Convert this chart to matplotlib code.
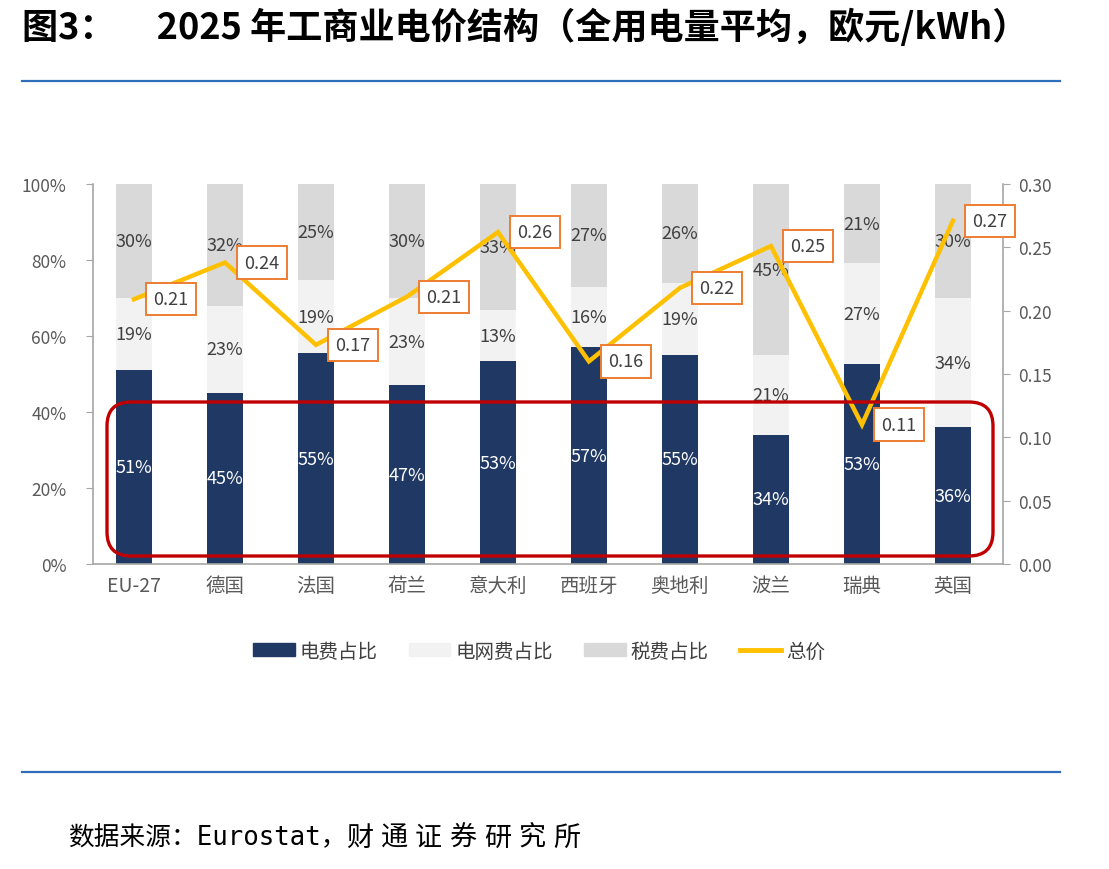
import matplotlib
matplotlib.use('Agg')
import matplotlib.pyplot as plt
import numpy as np
from matplotlib.patches import FancyBboxPatch, Patch
from matplotlib.lines import Line2D
from matplotlib.transforms import IdentityTransform
from matplotlib.ticker import FuncFormatter

plt.rcParams['font.family'] = ['Noto Sans CJK SC', 'DejaVu Sans']

categories = ['EU-27', '德国', '法国', '荷兰', '意大利', '西班牙', '奥地利', '波兰', '瑞典', '英国']
energy_share = [51, 45, 55.4, 47, 53.4, 57, 55, 34, 52.6, 36]
network_share = [19, 23, 19.4, 23, 13.4, 16, 19, 21, 26.6, 34]
tax_share = [30, 32, 25.2, 30, 33.2, 27, 26, 45, 20.8, 30]
total_price = [0.209, 0.238, 0.173, 0.211, 0.262, 0.160, 0.218, 0.251, 0.110, 0.271]
series_names = ['电费占比', '电网费占比', '税费占比', '总价']
left_ticks = [0, 20, 40, 60, 80, 100]
right_ticks = [0.00, 0.05, 0.10, 0.15, 0.20, 0.25, 0.30]

W, H = 1109, 870
fig = plt.figure(figsize=(W / 100, H / 100), dpi=100)
ax = fig.add_axes([93 / W, 1 - 565 / H, (1003 - 93) / W, (565 - 185) / H])
ax2 = ax.twinx()

c_energy = '#1F3864'
c_net = '#F2F2F2'
c_tax = '#D9D9D9'
c_line = '#FFC000'
c_box = '#ED7D31'
c_axis = '#A6A6A6'
c_text = '#595959'

x = np.arange(len(categories))
bw = 0.40
e = np.array(energy_share, float)
n = np.array(network_share, float)
t = np.array(tax_share, float)
ax.bar(x, e, bw, color=c_energy, zorder=2)
ax.bar(x, n, bw, bottom=e, color=c_net, zorder=2)
ax.bar(x, t, bw, bottom=e + n, color=c_tax, zorder=2)

for i in range(len(x)):
    ax.text(x[i], e[i] / 2, f'{e[i]:.0f}%', ha='center', va='center',
            color='white', fontsize=13, zorder=3)
    ax.text(x[i], e[i] + n[i] / 2, f'{n[i]:.0f}%', ha='center', va='center',
            color='#404040', fontsize=13, zorder=3)
    ax.text(x[i], e[i] + n[i] + t[i] / 2, f'{t[i]:.0f}%', ha='center', va='center',
            color='#404040', fontsize=13, zorder=3)

ax.set_xlim(-0.45, 9.55)
ax.set_ylim(0, 100)
ax.set_yticks(left_ticks)
ax.yaxis.set_major_formatter(FuncFormatter(lambda v, p: f'{v:.0f}%'))
ax.set_xticks(x)
ax.set_xticklabels(categories, fontsize=14, color=c_text)
ax.tick_params(axis='x', length=0, pad=8)
ax.tick_params(axis='y', labelsize=12.5, labelcolor=c_text, color=c_axis, length=5, pad=14)

ax2.set_ylim(0, 0.30)
ax2.set_yticks(right_ticks)
ax2.yaxis.set_major_formatter(FuncFormatter(lambda v, p: f'{v:.2f}'))
ax2.tick_params(axis='y', labelsize=12.5, labelcolor=c_text, color=c_axis, length=5, pad=6)

for a in (ax, ax2):
    a.spines['top'].set_visible(False)
    for s in ('left', 'right', 'bottom'):
        a.spines[s].set_color(c_axis)
        a.spines[s].set_linewidth(1.2)
ax.spines['right'].set_visible(False)
ax2.spines['left'].set_visible(False)
ax2.spines['bottom'].set_visible(False)

ax2.plot(x, total_price, color=c_line, lw=3.2, zorder=4, solid_joinstyle='miter')
for i in range(len(x)):
    ax2.annotate(f'{total_price[i]:.2f}', (x[i], total_price[i]), xytext=(37, 0),
                 textcoords='offset pixels', ha='center', va='center', fontsize=13,
                 color='#404040', zorder=6,
                 bbox=dict(boxstyle='square,pad=0.4', fc='white', ec=c_box, lw=1.4))

# red highlight box
rb = FancyBboxPatch((107, H - 557), 886, 154, boxstyle='round,pad=0,rounding_size=24',
                    transform=IdentityTransform(), fill=False, ec='#C00000', lw=2.4, zorder=10)
fig.add_artist(rb)

handles = [Patch(color=c_energy), Patch(color=c_net), Patch(color=c_tax),
           Line2D([], [], color=c_line, lw=3.5)]
fig.legend(handles, series_names, loc='center', bbox_to_anchor=(539 / W, 1 - 652 / H),
           ncol=4, frameon=False, fontsize=14, handlelength=2.15, handleheight=0.65,
           handletextpad=0.25, columnspacing=1.6, labelcolor='#404040')

# title, rules, source
fig.text(22 / W, 1 - 28 / H, '图3：     2025 年工商业电价结构（全用电量平均，欧元/kWh）',
         fontsize=26, fontweight='bold', va='center', ha='left', color='black')
fig.add_artist(Line2D([22 / W, 1060 / W], [1 - 82 / H] * 2, color='#2F6EBA', lw=1.6))
fig.add_artist(Line2D([22 / W, 1060 / W], [1 - 773 / H] * 2, color='#2F6EBA', lw=1.6))
fig.text(68 / W, 1 - 838 / H, '数据来源：Eurostat，', fontsize=18.5,
         family=['DejaVu Sans Mono', 'Noto Sans CJK SC'],
         va='center', ha='left', color='black')
for k, ch in enumerate('财通证券研究所'):
    fig.text((346 + 34.5 * k) / W, 1 - 838 / H, ch, fontsize=19.5,
             va='center', ha='left', color='black')

fig.savefig('out.png', dpi=100)
